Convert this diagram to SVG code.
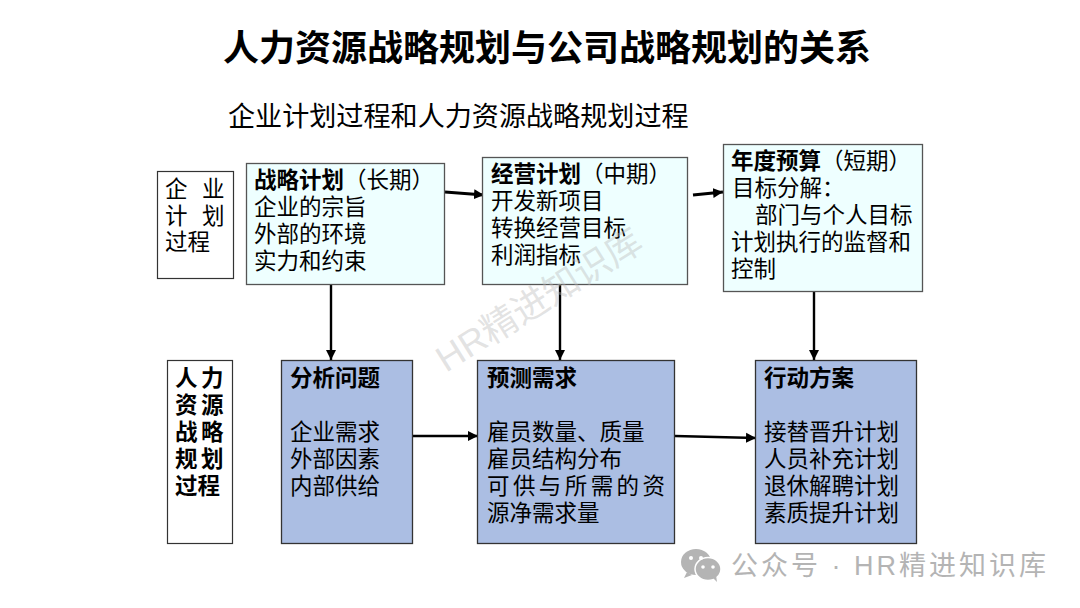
<svg xmlns="http://www.w3.org/2000/svg" width="1080" height="608" viewBox="0 0 1080 608">
<style>
text{font-family:"Liberation Sans","Noto Sans CJK SC",sans-serif;fill:#000;font-size:22.5px}
.b{font-weight:700}
.w{fill:#fff;stroke:#333;stroke-width:1.2}
.c{fill:#eeffff;stroke:#555;stroke-width:1.3}
.p{fill:#abbee3;stroke:#333;stroke-width:1.3}
.l{fill:none;stroke:#000;stroke-width:2.4;marker-end:url(#a)}
.t{stroke-width:3.200}
</style>
<defs>
<marker id="a" markerUnits="userSpaceOnUse" markerWidth="11" markerHeight="11" refX="10" refY="5.500" orient="auto"><path d="M0 0.500L10 5.500L0 10.500Z" fill="#000"/></marker>
</defs>
<rect width="1080" height="608" fill="#fff"/>
<g id="title">
<text x="223" y="61" class="b" style="font-size:36px">人力资源战略规划与公司战略规划的关系</text>
<text x="228" y="126" style="font-size:27.100px">企业计划过程和人力资源战略规划过程</text>
</g>
<g id="connectors">
<path class="l t" d="M445 192L484 195"/>
<path class="l t" d="M693 195L723 192"/>
<path class="l" d="M331 284V360"/>
<path class="l" d="M560 284V360"/>
<path class="l" d="M814 291V360"/>
<path class="l" d="M413 436H478"/>
<path class="l" d="M675 436L756 438"/>
</g>
<g id="n1"><rect class="w" x="157.500" y="171.500" width="76" height="107"/>
<text x="165" y="197">企</text><text x="202" y="197">业</text>
<text x="165" y="224">计</text><text x="202" y="224">划</text>
<text x="165" y="250">过程</text></g>
<g id="n2"><rect class="c" x="246.500" y="163.500" width="198" height="121"/>
<text x="254" y="188"><tspan class="b">战略计划</tspan>（长期）</text>
<text x="254" y="215">企业的宗旨</text><text x="254" y="242">外部的环境</text><text x="254" y="269">实力和约束</text></g>
<g id="n3"><rect class="c" x="482.500" y="157.500" width="205" height="127"/>
<text x="491" y="182"><tspan class="b">经营计划</tspan>（中期）</text>
<text x="491" y="209">开发新项目</text><text x="491" y="236">转换经营目标</text><text x="491" y="263">利润指标</text></g>
<g id="n4"><rect class="c" x="723.500" y="144.500" width="199" height="147"/>
<text x="731" y="169"><tspan class="b">年度预算</tspan>（短期）</text>
<text x="732" y="196">目标分解：</text><text x="755" y="223">部门与个人目标</text>
<text x="731" y="250">计划执行的监督和</text><text x="731" y="277">控制</text></g>
<g id="n5"><rect class="w" x="167.500" y="360.500" width="65" height="183"/>
<text class="b" x="175" y="386">人</text><text class="b" x="201" y="386">力</text>
<text class="b" x="175" y="413">资</text><text class="b" x="201" y="413">源</text>
<text class="b" x="175" y="440">战</text><text class="b" x="201" y="440">略</text>
<text class="b" x="175" y="467">规</text><text class="b" x="201" y="467">划</text>
<text class="b" x="175" y="494">过程</text></g>
<g id="n6"><rect class="p" x="281.500" y="360.500" width="131" height="183"/>
<text class="b" x="290" y="386">分析问题</text>
<text x="290" y="440">企业需求</text><text x="290" y="467">外部因素</text><text x="290" y="494">内部供给</text></g>
<g id="n7"><rect class="p" x="477.500" y="360.500" width="197" height="183"/>
<text class="b" x="487" y="386">预测需求</text>
<text x="487" y="440">雇员数量、质量</text><text x="487" y="467">雇员结构分布</text>
<text x="487" y="494" textLength="178">可供与所需的资</text><text x="487" y="521">源净需求量</text></g>
<g id="n8"><rect class="p" x="755.500" y="360.500" width="161" height="183"/>
<text class="b" x="764" y="386">行动方案</text>
<text x="764" y="440">接替晋升计划</text><text x="764" y="467">人员补充计划</text>
<text x="764" y="494">退休解聘计划</text><text x="764" y="521">素质提升计划</text></g>
<g id="watermark">
<text transform="translate(446 373) rotate(-32)" style="font-size:36.500px;fill:#bbb;fill-opacity:.42">HR精进知识库</text>
</g>
<g id="wechat-mark">
<ellipse cx="696" cy="562" rx="15" ry="13" fill="#b4b4b4"/>
<path d="M687 572l-3 6 8-3z" fill="#b4b4b4"/>
<ellipse cx="708" cy="569" rx="13" ry="11.500" fill="#b4b4b4" stroke="#fff" stroke-width="1.500"/>
<path d="M713 578l4 4-1-7z" fill="#b4b4b4"/>
<circle cx="691" cy="558" r="2" fill="#fff"/><circle cx="701" cy="558" r="2" fill="#fff"/>
<circle cx="703" cy="567" r="1.800" fill="#fff"/><circle cx="713" cy="567" r="1.800" fill="#fff"/>
<text x="731" y="575" style="font-size:27px;fill:#b4b4b4" textLength="315">公众号 · HR精进知识库</text>
</g>
</svg>
